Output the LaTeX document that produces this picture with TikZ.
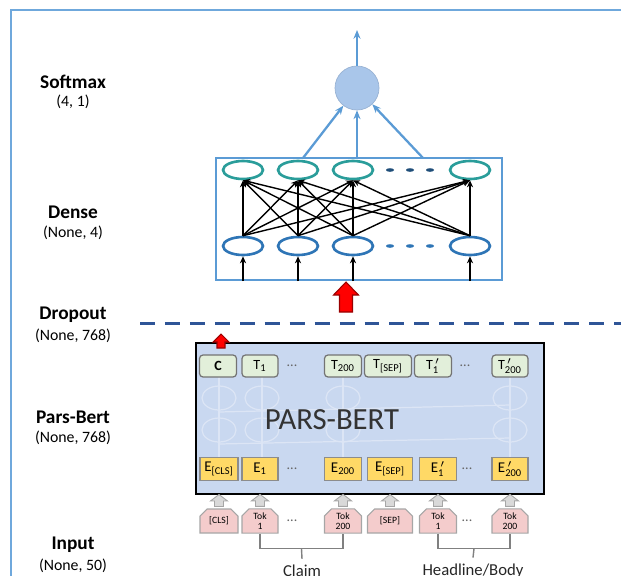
\documentclass[tikz,border=0pt]{standalone}
\usepackage{amsmath}
\usepackage{fontspec}
\setmainfont{Carlito}
\usetikzlibrary{arrows.meta,shapes.geometric,shapes.misc,positioning,calc}

\definecolor{frameblue}{HTML}{6FA8DC}
\definecolor{smfill}{HTML}{A9C6EA}
\definecolor{smline}{HTML}{5B9BD5}
\definecolor{teal}{HTML}{2A9D9A}
\definecolor{lowblue}{HTML}{2E75B6}
\definecolor{navy}{HTML}{1F4E79}
\definecolor{dropblue}{HTML}{2F5597}
\definecolor{bertfill}{HTML}{C9D8F0}
\definecolor{ghost}{HTML}{DCE5F5}
\definecolor{tgreen}{HTML}{E2EFDA}
\definecolor{eyellow}{HTML}{FFD966}
\definecolor{ppink}{HTML}{F4CCCC}
\definecolor{agray}{HTML}{D9D9D9}

\newcommand{\pxl}{0.02cm}
\newcommand{\tokp}[2]{#1$^{\,\prime}_{\text{#2}}$}

\tikzset{
    pics/blkup/.style args={#1/#2/#3/#4}{code={
        % length / shaft half width / head half width / head length
        \draw[pic actions] (-#2,0) -- (-#2,-#1+#4) -- (-#3,-#1+#4) -- (0,-#1)
            -- (#3,-#1+#4) -- (#2,-#1+#4) -- (#2,0) -- cycle;
    }}
}

\begin{document}
\begin{tikzpicture}[x=0.02cm, y=-0.02cm,
    lyr/.style={font=\fontsize{11}{12}\selectfont\bfseries, align=center},
    shp/.style={font=\fontsize{9}{10}\selectfont},
    sa/.style={-{Stealth[length=5pt,width=4pt]}, smline, line width=1.3pt},
    neuup/.style={draw=teal, ellipse, line width=1.5pt, minimum width=40*\pxl, minimum height=18*\pxl, fill=white},
    neulo/.style={draw=lowblue, ellipse, line width=1.5pt, minimum width=40*\pxl, minimum height=18*\pxl, fill=white},
    fc/.style={-{Stealth[length=4pt,width=3.5pt]}, black, line width=0.8pt},
    tbox/.style={draw=black!55, fill=tgreen, rounded corners=2pt, line width=0.7pt, minimum height=22*\pxl, inner sep=0pt, font=\fontsize{8}{9}\selectfont},
    ebox/.style={draw=black!45, fill=eyellow, line width=0.7pt, minimum height=23*\pxl, inner sep=0pt, font=\fontsize{8.5}{9}\selectfont},
    pbox/.style={draw=black!35, fill=ppink, chamfered rectangle, chamfered rectangle corners={north east,north west}, chamfered rectangle xsep=2pt, chamfered rectangle ysep=2pt, line width=0.6pt, minimum height=24*\pxl, inner sep=0pt, align=center, font=\fontsize{5.5}{6}\selectfont},
    redup/.style={fill=red, draw=red!60!black, line width=0.6pt},
    grayup/.style={fill=agray, draw=black!35, line width=0.5pt},
    dots/.style={font=\fontsize{8}{9}\selectfont, text=black!60},
    brk/.style={draw=black!50, line width=0.8pt}
]
\useasboundingbox (0,0) rectangle (621,575);
% outer frame
\draw[frameblue, line width=1.2pt] (11,580) |- (625,10);

% layer names
\node[lyr] (l-sm) at (73,82) {Softmax};
\node[shp] (s-sm) at (73,102) {(4, 1)};
\node[lyr] (l-de) at (73,212) {Dense};
\node[shp] (s-de) at (73,233) {(None, 4)};
\node[lyr] (l-dr) at (73,315) {Dropout};
\node[shp] (s-dr) at (73,336) {(None, 768)};
\node[lyr] (l-pb) at (73,417) {Pars-Bert};
\node[shp] (s-pb) at (73,438) {(None, 768)};
\node[lyr] (l-in) at (73,545) {Input};
\node[shp] (s-in) at (73,566) {(None, 50)};

% softmax
\node[circle, fill=smfill, draw=smfill!90!black, minimum size=44*\pxl] (sm) at (357,88) {};
\coordinate (out) at (357,30);
\draw[sa] (sm.north) -- (out);

% dense
\node[draw=smline, line width=1.3pt, minimum width=286*\pxl, minimum height=122*\pxl] (dense) at (359,219) {};
\coordinate (s1) at (303,158);
\coordinate (s2) at (357,158);
\coordinate (s3) at (423,158);
\foreach \k in {1,2,3}
    \draw[sa] (s\k) -- (sm);
\foreach \i/\x in {1/243,2/298,3/353,4/470}{
    \node[neuup] (t\i) at (\x,170) {};
    \node[neulo] (b\i) at (\x,246) {};
}
\foreach \x in {390,410,430}{
    \fill[navy] (\x,170) ellipse (4 and 1.8);
    \fill[lowblue] (\x,246) ellipse (4 and 1.8);
}
\foreach \i in {1,...,4}
    \foreach \j in {1,...,4}
        \draw[fc] (b\i.north) -- (t\j.south);
\foreach \i in {1,...,4}
    \draw[fc, line width=1.3pt] (dense.south -| b\i) -- (b\i.south);

% dropout
\pic[redup] (redarr) at (346,312) {blkup={30/6.5/12.5/13}};
\coordinate (dl) at (140,323);
\coordinate (dr) at (625,323);
\draw[dropblue, line width=1.7pt, dash pattern=on 8.5pt off 5.7pt] (dl) -- (dr);

% pars-bert
\node[draw=black, fill=bertfill, line width=1.2pt, minimum width=348*\pxl, minimum height=151*\pxl] (bert) at (370,418.5) {};
\foreach \x in {219,262,343,510}{
    \draw[ghost, line width=0.7pt] (\x,377) -- (\x,458);
    \draw[ghost, line width=0.7pt] (\x,398) ellipse (17 and 12);
    \draw[ghost, line width=0.7pt] (\x,430) ellipse (17 and 12);
}
\draw[ghost, line width=0.7pt] (219,412) -- (510,405) (219,444) -- (510,438);
\node[font=\fontsize{17.5}{18}\selectfont, text=black!80] (bname) at (332,420) {PARS-BERT};
\pic[redup] (redsm) at (221,348) {blkup={14/4/8/8}};

% output tokens
\node[tbox, minimum width=37*\pxl, font=\fontsize{8}{9}\selectfont\bfseries] (tc) at (218,366) {C};
\node[tbox, minimum width=36*\pxl] (t-1) at (260,366) {T\textsubscript{1}};
\node[dots] (td1) at (292,366) {...};
\node[tbox, minimum width=37*\pxl] (t-200) at (343,366) {T\textsubscript{200}};
\node[tbox, minimum width=47*\pxl] (tsep) at (388,366) {T\textsubscript{[SEP]}};
\node[tbox, minimum width=37*\pxl] (tp-1) at (433,366) {\tokp{T}{1}};
\node[dots] (td2) at (465,366) {...};
\node[tbox, minimum width=36*\pxl] (tp-200) at (510,366) {\tokp{T}{200}};

% embeddings
\node[ebox, minimum width=38*\pxl] (ecls) at (219,469) {E\textsubscript{[CLS]}};
\node[ebox, minimum width=36*\pxl] (e-1) at (260,469) {E\textsubscript{1}};
\node[dots] (ed1) at (292,469) {...};
\node[ebox, minimum width=37*\pxl] (e-200) at (343,469) {E\textsubscript{200}};
\node[ebox, minimum width=45*\pxl] (esep) at (390,469) {E\textsubscript{[SEP]}};
\node[ebox, minimum width=37*\pxl] (ep-1) at (438,469) {\tokp{E}{1}};
\node[dots] (ed2) at (467,469) {...};
\node[ebox, minimum width=36*\pxl] (ep-200) at (510,469) {\tokp{E}{200}};

% input tokens
\node[pbox, minimum width=38*\pxl] (pcls) at (219,521) {[CLS]};
\node[pbox, minimum width=36*\pxl] (p-1) at (260,521) {Tok\\1};
\node[dots] (pd1) at (292,521) {...};
\node[pbox, minimum width=37*\pxl] (p-200) at (343,521) {Tok\\200};
\node[pbox, minimum width=45*\pxl] (psep) at (390,521) {[SEP]};
\node[pbox, minimum width=37*\pxl] (pp-1) at (438,521) {Tok\\1};
\node[dots] (pd2) at (467,521) {...};
\node[pbox, minimum width=36*\pxl] (pp-200) at (510,521) {Tok\\200};

% gray up arrows
\foreach \n in {pcls,p-1,p-200,psep,pp-1,pp-200}
    \pic[grayup] (g-\n) at ($(\n.north)+(0,-2)$) {blkup={12/4.5/8.5/6.5}};

% segments
\node[font=\fontsize{9.5}{10}\selectfont, text=black!85] (claim) at (302,571) {Claim};
\node[font=\fontsize{9.5}{10}\selectfont, text=black!85] (hb) at (473,571) {Headline/Body};
\coordinate (cm) at ($(p-1.south)!0.5!(p-200.south)+(0,15)$);
\coordinate (hm) at ($(pp-1.south)!0.5!(pp-200.south)+(0,15)$);
\draw[brk] (p-1.south) |- (cm) -| (p-200.south);
\draw[brk] (cm) -- (claim.north);
\draw[brk] (pp-1.south) |- (hm) -| (pp-200.south);
\draw[brk] (hm) -- (hb.north);
\end{tikzpicture}
\end{document}
